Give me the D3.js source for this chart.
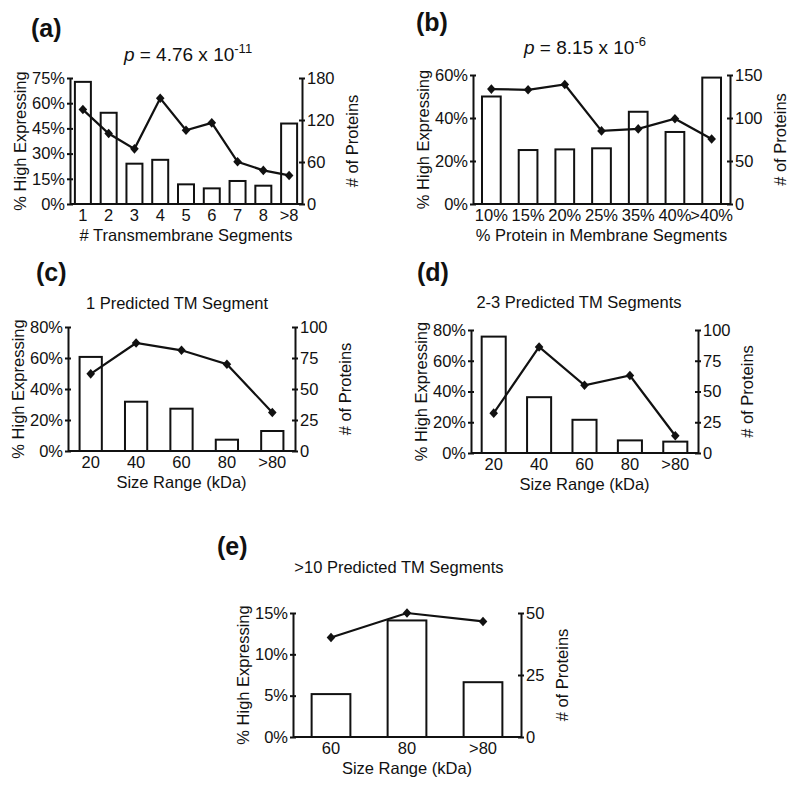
<!DOCTYPE html>
<html><head><meta charset="utf-8">
<script src="https://cdn.jsdelivr.net/npm/d3@7"></script>
<style>
html,body{margin:0;padding:0;background:#fff;}
svg text{font-family:"Liberation Sans",Arial,Helvetica,sans-serif;fill:#111;}
</style></head>
<body><svg id="chart" width="800" height="789"></svg>
<script>
// ---------- DATA ----------
const catsA = ["1","2","3","4","5","6","7","8",">8"];
const barsA = [72.7, 54.3, 24.0, 26.3, 11.7, 9.3, 13.7, 10.9, 47.9];
const lineA = [134.9, 100.7, 78.8, 151, 105.4, 115.9, 60.3, 48, 40.8];
const leftTicksA = [0, 15, 30, 45, 60, 75];
const rightTicksA = [0, 60, 120, 180];

const catsB = ["10%","15%","20%","25%","35%","40%",">40%"];
const barsB = [50.0, 25.1, 25.4, 25.9, 42.9, 33.5, 58.8];
const lineB = [133.6, 132.8, 139, 85, 87.3, 99.1, 75.6];
const leftTicksB = [0, 20, 40, 60];
const rightTicksB = [0, 50, 100, 150];

const catsC = ["20","40","60","80",">80"];
const barsC = [60.7, 31.8, 27.3, 7.3, 12.9];
const lineC = [62.2, 87.1, 81.2, 70, 31.1];
const leftTicksC = [0, 20, 40, 60, 80];
const rightTicksC = [0, 25, 50, 75, 100];

const catsD = ["20","40","60","80",">80"];
const barsD = [75.7, 36.3, 21.6, 8.2, 7.4];
const lineD = [32.4, 86.2, 55.1, 63, 14];
const leftTicksD = [0, 20, 40, 60, 80];
const rightTicksD = [0, 25, 50, 75, 100];

const catsE = ["60","80",">80"];
const barsE = [5.19, 14.1, 6.63];
const lineE = [40.1, 50, 46.6];
const leftTicksE = [0, 5, 10, 15];
const rightTicksE = [0, 25, 50];

// ---------- DRAWING ----------
const svg = d3.select("#chart");
const FONT = 16.5;

function drawPanel(p) {
  const g = svg.append("g");
  const x = d3.scaleBand().domain(p.cats).range([p.x0, p.x1])
    .paddingInner(1 - p.barRatio).paddingOuter((1 - p.barRatio) / 2);
  const yL = d3.scaleLinear().domain([0, d3.max(p.leftTicks)]).range([p.y1, p.y0]);
  const yR = d3.scaleLinear().domain([0, d3.max(p.rightTicks)]).range([p.y1, p.y0]);

  // bars
  g.selectAll("rect.bar").data(p.bars).join("rect")
    .attr("x", (d, i) => x(p.cats[i]))
    .attr("y", d => yL(d))
    .attr("width", x.bandwidth())
    .attr("height", d => yL(0) - yL(d))
    .attr("fill", "#fff").attr("stroke", "#111").attr("stroke-width", 2);

  // left axis
  const axL = d3.axisLeft(yL).tickValues(p.leftTicks).tickFormat(d => d + "%").tickSizeInner(3).tickSizeOuter(0).tickPadding(2);
  const gL = g.append("g").attr("transform", `translate(${p.x0},0)`).call(axL);
  // right axis
  const axR = d3.axisRight(yR).tickValues(p.rightTicks).tickSizeInner(3).tickSizeOuter(0).tickPadding(2);
  const gR = g.append("g").attr("transform", `translate(${p.x1},0)`).call(axR);
  [gL, gR].forEach(ga => {
    ga.select(".domain").attr("stroke", "#111").attr("stroke-width", 2);
    ga.selectAll(".tick line").attr("stroke", "#111").attr("stroke-width", 2)
      .attr("x1", -3).attr("x2", 3);
    ga.selectAll(".tick text").attr("font-size", FONT).attr("fill", "#111")
      .attr("font-family", "Liberation Sans, Arial, sans-serif");
  });
  gL.selectAll(".tick text").attr("x", -5);
  gR.selectAll(".tick text").attr("x", 5);

  // bottom axis
  const axB = d3.axisBottom(x).tickSize(0).tickPadding(5);
  const gB = g.append("g").attr("transform", `translate(0,${p.y1})`).call(axB);
  gB.select(".domain").attr("stroke", "#111").attr("stroke-width", 2)
    .attr("d", `M${p.x0},0H${p.x1}`);
  gB.selectAll(".tick text").attr("font-size", FONT).attr("fill", "#111")
    .attr("font-family", "Liberation Sans, Arial, sans-serif");

  // line
  const line = d3.line().x((d, i) => x(p.cats[i]) + x.bandwidth() / 2).y(d => yR(d));
  g.append("path").datum(p.line).attr("d", line)
    .attr("fill", "none").attr("stroke", "#111").attr("stroke-width", 2.2);
  g.selectAll("path.mk").data(p.line).join("path").attr("class", "mk")
    .attr("d", "M0,-4.8L4.3,0L0,4.8L-4.3,0Z")
    .attr("transform", (d, i) => `translate(${x(p.cats[i]) + x.bandwidth() / 2},${yR(d)})`)
    .attr("fill", "#111");

  // axis titles
  const cy = (p.y0 + p.y1) / 2;
  g.append("text").attr("transform", `translate(${p.x0 - p.lt},${cy}) rotate(-90)`)
    .attr("text-anchor", "middle").attr("font-size", FONT).text("% High Expressing");
  g.append("text").attr("transform", `translate(${p.x1 + p.rt},${cy}) rotate(-90)`)
    .attr("text-anchor", "middle").attr("font-size", FONT).text("# of Proteins");
  g.append("text").attr("x", (p.x0 + p.x1) / 2).attr("y", p.y1 + 37)
    .attr("text-anchor", "middle").attr("font-size", FONT).text(p.xTitle);

  // panel label
  g.append("text").attr("x", p.lx).attr("y", p.ly).attr("font-size", 25)
    .attr("font-weight", "bold").text(p.label);

  // title
  const t = g.append("text").attr("x", p.tx).attr("y", p.ty).attr("text-anchor", "middle")
    .attr("font-size", p.pval ? 19 : 16.5);
  if (p.pval) {
    t.append("tspan").attr("font-style", "italic").text("p");
    t.append("tspan").text(" = " + p.pval + " x 10");
    t.append("tspan").attr("font-size", 13).attr("dy", -8).text(p.pexp);
  } else {
    t.text(p.title);
  }
}

drawPanel({cats: catsA, bars: barsA, line: lineA, leftTicks: leftTicksA, rightTicks: rightTicksA,
  x0: 70, x1: 302, y0: 78, y1: 204, barRatio: 0.62, lt: 44, rt: 56,
  xTitle: "# Transmembrane Segments", label: "(a)", lx: 31, ly: 37,
  tx: 188, ty: 61, pval: "4.76", pexp: "-11"});
drawPanel({cats: catsB, bars: barsB, line: lineB, leftTicks: leftTicksB, rightTicks: rightTicksB,
  x0: 473, x1: 730, y0: 75, y1: 204, barRatio: 0.51, lt: 44, rt: 56,
  xTitle: "% Protein in Membrane Segments", label: "(b)", lx: 416, ly: 31,
  tx: 585, ty: 54, pval: "8.15", pexp: "-6"});
drawPanel({cats: catsC, bars: barsC, line: lineC, leftTicks: leftTicksC, rightTicks: rightTicksC,
  x0: 68, x1: 295, y0: 327, y1: 451, barRatio: 0.49, lt: 44, rt: 56,
  xTitle: "Size Range (kDa)", label: "(c)", lx: 36, ly: 281,
  tx: 177, ty: 309, title: "1 Predicted TM Segment"});
drawPanel({cats: catsD, bars: barsD, line: lineD, leftTicks: leftTicksD, rightTicks: rightTicksD,
  x0: 471, x1: 698, y0: 330, y1: 453, barRatio: 0.53, lt: 44, rt: 55,
  xTitle: "Size Range (kDa)", label: "(d)", lx: 417, ly: 281,
  tx: 579, ty: 308, title: "2-3 Predicted TM Segments"});
drawPanel({cats: catsE, bars: barsE, line: lineE, leftTicks: leftTicksE, rightTicks: rightTicksE,
  x0: 293, x1: 521, y0: 613, y1: 737, barRatio: 0.51, lt: 44, rt: 47,
  xTitle: "Size Range (kDa)", label: "(e)", lx: 217, ly: 555,
  tx: 399, ty: 573, title: ">10 Predicted TM Segments"});
</script></body></html>
